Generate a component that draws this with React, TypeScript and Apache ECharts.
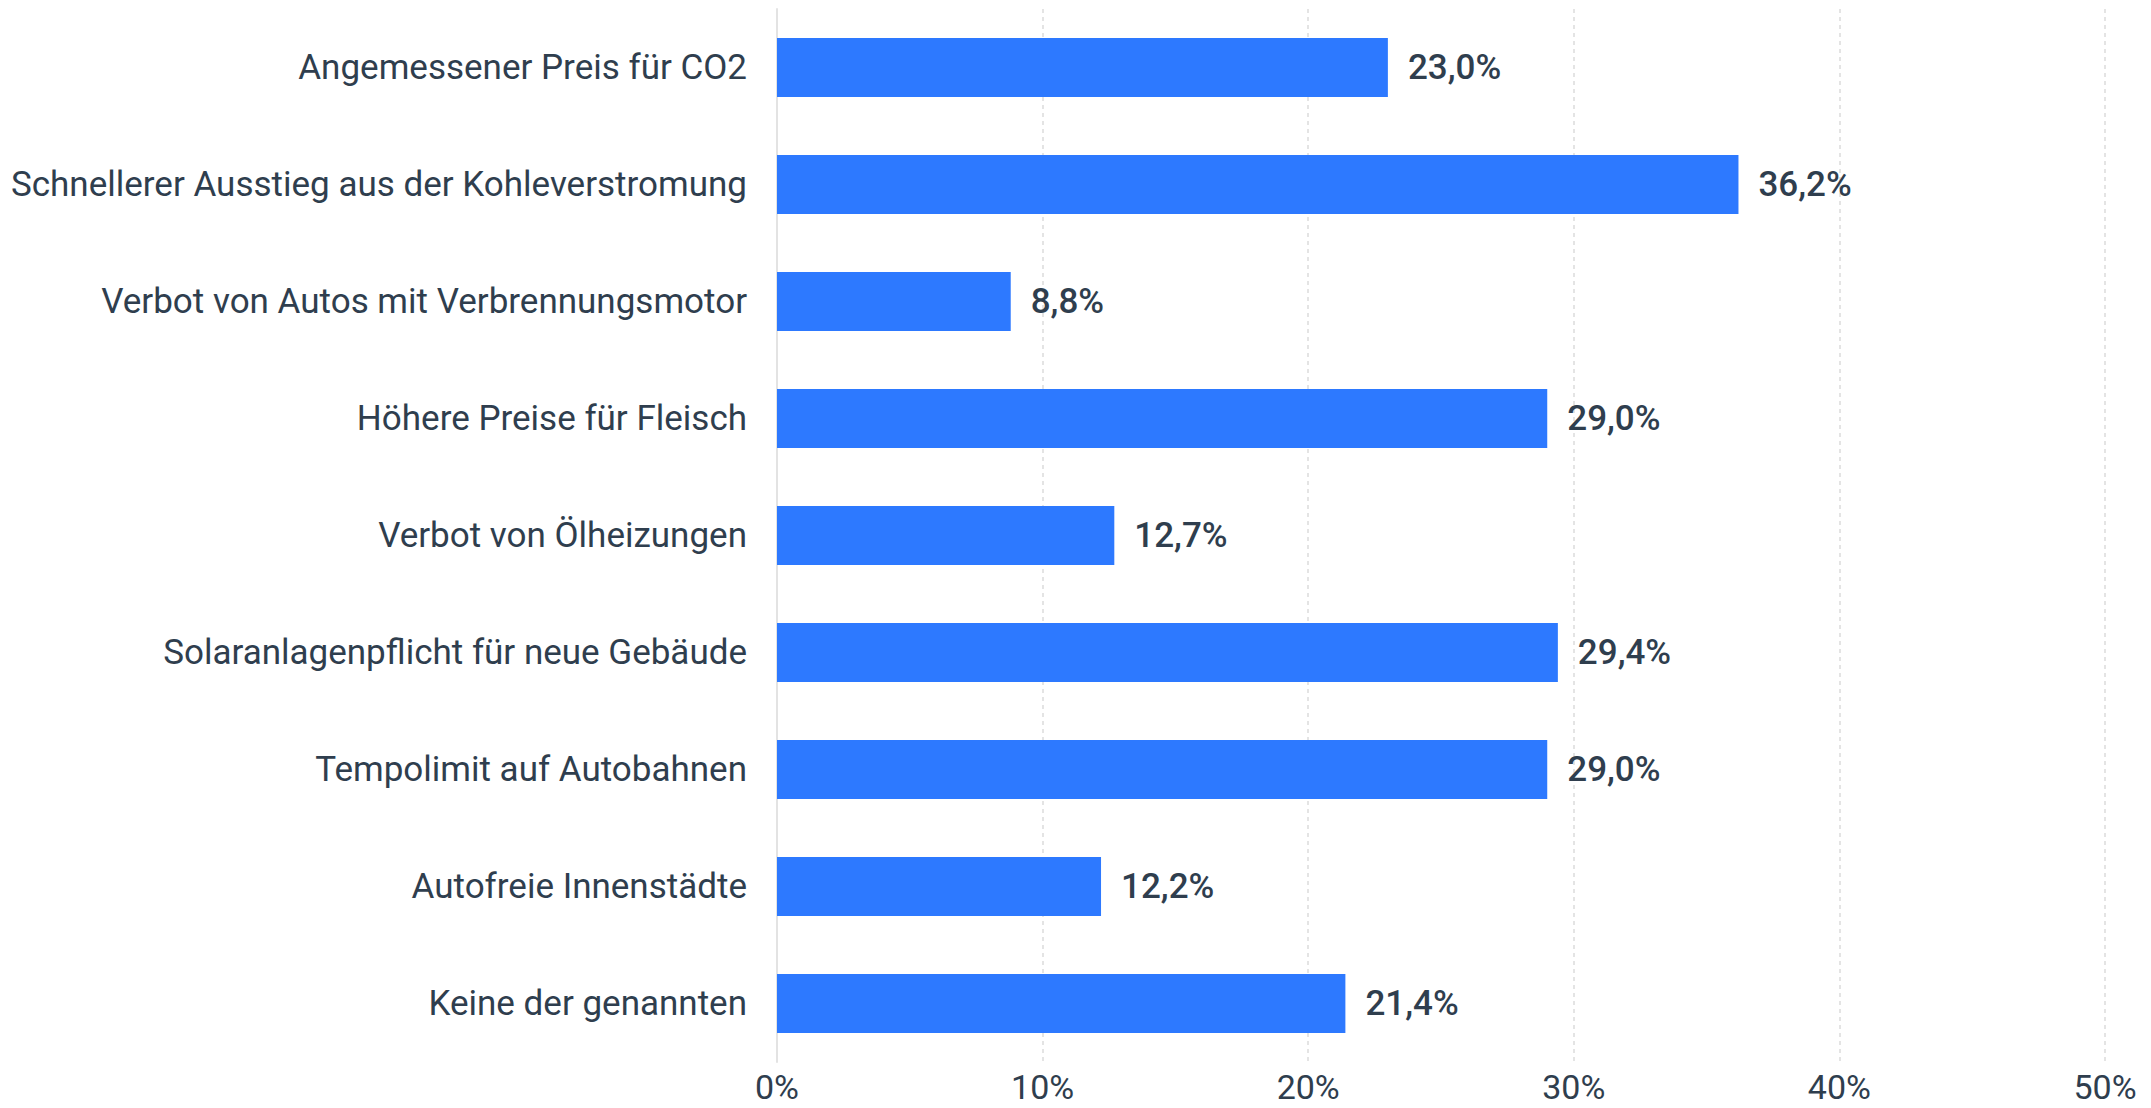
import React, { useEffect, useRef } from "react";
import * as echarts from "echarts";

const categories = [
  "Angemessener Preis für CO2",
  "Schnellerer Ausstieg aus der Kohleverstromung",
  "Verbot von Autos mit Verbrennungsmotor",
  "Höhere Preise für Fleisch",
  "Verbot von Ölheizungen",
  "Solaranlagenpflicht für neue Gebäude",
  "Tempolimit auf Autobahnen",
  "Autofreie Innenstädte",
  "Keine der genannten",
];
const values = [23.0, 36.2, 8.8, 29.0, 12.7, 29.4, 29.0, 12.2, 21.4];
const xTicks = { min: 0, max: 50, interval: 10 };

const TEXT = "#2f3e4e";

export default function App() {
  const ref = useRef<HTMLDivElement>(null);
  useEffect(() => {
    if (!ref.current) return;
    const chart = echarts.init(ref.current, undefined, { renderer: "svg" });
    chart.setOption({
      animation: false,
      backgroundColor: "#ffffff",
      grid: { left: 777, right: 46, top: 9, bottom: 46, containLabel: false },
      xAxis: {
        type: "value",
        min: xTicks.min,
        max: xTicks.max,
        interval: xTicks.interval,
        axisLine: { show: false },
        axisTick: { show: false },
        splitLine: { show: true, lineStyle: { color: "#dcdcdc", type: [4, 4], width: 1.5 } },
        axisLabel: {
          formatter: (v: number) => `${v}%`,
          color: TEXT,
          fontFamily: "Roboto",
          fontSize: 34,
          lineHeight: 34,
          margin: 8,
        },
      },
      yAxis: {
        type: "category",
        data: categories,
        inverse: true,
        axisLine: { show: true, lineStyle: { color: "#e3e3e3", width: 2 } },
        axisTick: { show: false },
        splitLine: { show: false },
        axisLabel: {
          color: TEXT,
          fontFamily: "Roboto",
          fontSize: 35,
          margin: 30,
        },
      },
      series: [
        {
          type: "bar",
          data: values,
          barWidth: 59,
          itemStyle: { color: "#2d79ff" },
          label: {
            show: true,
            position: "right",
            distance: 20,
            color: TEXT,
            fontFamily: "Roboto",
            fontWeight: 500,
            fontSize: 35,
            formatter: (p: any) => `${p.value.toFixed(1).replace(".", ",")}%`,
          },
        },
      ],
    });
    return () => chart.dispose();
  }, []);
  return (
    <div
      ref={ref}
      style={{ position: "fixed", left: 0, top: 0, width: 2151, height: 1108 }}
    />
  );
}
